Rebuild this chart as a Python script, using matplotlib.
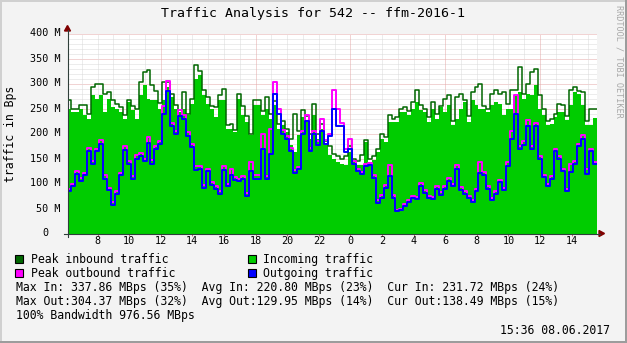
import numpy as np
import matplotlib
matplotlib.use("Agg")
import matplotlib.pyplot as plt
from matplotlib.patches import Rectangle, Polygon
from matplotlib.lines import Line2D
from matplotlib.transforms import blended_transform_factory

W, H, DPI = 627, 343, 100

# 15-minute samples starting 06:06, values in MBytes/s
start_hour = 6.1
step_hours = 0.25

in_peak = [
    267, 250, 250, 257, 257, 240, 293, 300, 300, 280,
    283, 267, 260, 253, 237, 267, 255, 250, 303, 323,
    327, 297, 285, 262, 303, 303, 280, 258, 248, 283,
    240, 270, 337.86, 325, 287, 273, 256, 253, 277, 290,
    217, 220, 208, 280, 255, 235, 200, 267, 267, 245,
    273, 240, 265, 220, 225, 210, 190, 240, 205, 247,
    235, 200, 260, 200, 220, 185, 175, 160, 155, 150,
    155, 175, 150, 145, 157, 187, 150, 155, 170, 200,
    193, 237, 230, 233, 250, 253, 245, 263, 287, 257,
    250, 233, 263, 240, 255, 270, 277, 225, 273, 280,
    267, 235, 283, 293, 300, 255, 250, 280, 287, 280,
    283, 260, 287, 287, 333, 280, 300, 323, 330, 277,
    250, 225, 230, 240, 260, 257, 235, 287, 293, 285,
    283, 225, 250, 250,
]

in_avg = [
    250, 243, 243, 250, 237, 230, 277, 270, 277, 243,
    270, 253, 250, 243, 230, 263, 247, 230, 277, 297,
    270, 267, 267, 250, 267, 293, 273, 250, 243, 250,
    237, 260, 310, 317, 277, 260, 250, 233, 267, 267,
    210, 210, 203, 270, 237, 223, 197, 257, 257, 237,
    250, 230, 257, 210, 217, 203, 177, 163, 197, 233,
    223, 190, 237, 190, 210, 177, 157, 150, 143, 140,
    137, 163, 143, 137, 137, 183, 143, 147, 163, 190,
    183, 223, 223, 223, 243, 243, 237, 250, 263, 247,
    243, 223, 250, 230, 253, 243, 257, 217, 230, 250,
    263, 223, 267, 257, 250, 250, 243, 257, 263, 260,
    237, 250, 250, 277, 283, 270, 280, 277, 297, 250,
    237, 217, 220, 233, 243, 243, 227, 257, 283, 280,
    257, 217, 217, 231.72,
]

out_peak = [
    90, 100, 126, 112, 122, 172, 146, 170, 188, 118,
    92, 64, 86, 122, 176, 146, 116, 158, 162, 150,
    194, 148, 176, 186, 255, 304.37, 222, 205, 248, 238,
    203, 180, 135, 136, 98, 130, 103, 96, 86, 135,
    100, 130, 113, 110, 116, 82, 143, 118, 118, 200,
    116, 210, 303, 250, 208, 196, 172, 128, 134, 205,
    237, 172, 206, 185, 230, 188, 200, 287, 250, 222,
    170, 190, 146, 130, 124, 140, 142, 117, 68, 78,
    98, 137, 78, 48, 50, 60, 67, 76, 74, 101,
    88, 76, 74, 96, 83, 95, 112, 100, 137, 93,
    85, 76, 67, 90, 143, 124, 95, 72, 85, 108,
    92, 143, 205, 277, 176, 185, 227, 176, 222, 156,
    118, 100, 116, 170, 155, 130, 90, 140, 145, 180,
    197, 130, 170, 143,
]

out_avg = [
    85, 95, 120, 105, 117, 165, 140, 165, 180, 110,
    88, 58, 80, 117, 168, 140, 110, 150, 155, 145,
    182, 140, 170, 180, 240, 285, 215, 200, 235, 230,
    195, 173, 128, 130, 92, 125, 97, 90, 80, 128,
    95, 117, 108, 105, 110, 75, 125, 110, 110, 170,
    110, 160, 280, 240, 200, 190, 165, 122, 130, 200,
    225, 165, 200, 178, 205, 180, 195, 250, 215, 215,
    163, 170, 140, 125, 120, 135, 138, 112, 62, 72,
    92, 115, 72, 45, 47, 55, 63, 72, 70, 95,
    82, 72, 70, 90, 78, 90, 105, 95, 130, 88,
    80, 72, 63, 85, 122, 118, 90, 68, 80, 103,
    88, 135, 190, 240, 170, 178, 215, 170, 215, 150,
    113, 95, 110, 165, 150, 125, 85, 123, 140, 175,
    190, 120, 165, 138.49,
]

y_ticks = list(range(0, 401, 50))
y_tick_labels = ["0"] + [f"{v} M" for v in y_ticks[1:]]
x_tick_hours = list(range(8, 39, 2))
x_tick_labels = [str(h % 24) for h in x_tick_hours]

title = "Traffic Analysis for 542 -- ffm-2016-1"
legend_items = [
    ("Peak inbound traffic", "#006600", 15, 259.3, 30.7),
    ("Incoming traffic", "#00CC00", 248, 259.3, 263.3),
    ("Peak outbound traffic", "#FF00FF", 15, 273.3, 30.7),
    ("Outgoing traffic", "#0000FF", 248, 273.3, 263.3),
]
stats_lines = [
    "Max In: 337.86 MBps (35%)  Avg In: 220.80 MBps (23%)  Cur In: 231.72 MBps (24%)",
    "Max Out:304.37 MBps (32%)  Avg Out:129.95 MBps (14%)  Cur Out:138.49 MBps (15%)",
    "100% Bandwidth 976.56 MBps",
]
timestamp = "15:36 08.06.2017"
credit = "RRDTOOL / TOBI OETIKER"

MONO = "DejaVu Sans Mono"


def fx(px):
    return px / W


def fy(py):
    return 1 - py / H


fig = plt.figure(figsize=(W / DPI, H / DPI), dpi=DPI, facecolor="#F3F3F3")

# 3D-style frame around the canvas
for (x0, y0, w, h, c) in [
    (0, 0, W, 2, "#D0D0D0"), (0, 0, 2, H, "#D0D0D0"),
    (W - 2, 0, 2, H, "#9C9C9C"), (0, H - 2, W, 2, "#9C9C9C"),
]:
    fig.add_artist(Rectangle((fx(x0), fy(y0 + h)), w / W, h / H,
                             transform=fig.transFigure, facecolor=c,
                             edgecolor="none"))

x_left, x_right, y_bottom, y_top = 67.5, 597, 233.5, 33.5
ax = fig.add_axes([fx(x_left), fy(y_bottom), (x_right - x_left) / W,
                   (y_bottom - y_top) / H])
ax.set_facecolor("white")
for s in ax.spines.values():
    s.set_visible(False)

t_end = start_hour + step_hours * len(in_avg)
ax.set_xlim(start_hour, t_end)
ax.set_ylim(0, 400)

# grid: 10M / 1h minor, 50M / 6h major
dots = (0, (1, 1))
for v in range(10, 401, 10):
    major = v % 50 == 0
    ax.axhline(v, color="#E5A8A8" if major else "#DADADA", lw=0.72,
               ls=dots, zorder=1)
for h in range(7, 40):
    major = h % 6 == 0
    ax.axvline(h, color="#E5A8A8" if major else "#DADADA", lw=0.72,
               ls=dots, zorder=1)

edges = start_hour + step_hours * np.arange(len(in_avg) + 1)


def ext(a):
    return np.append(a, a[-1])


ax.fill_between(edges, 0, ext(in_avg), step="post", color="#00CC00",
                lw=0, zorder=2)
ax.step(edges, ext(in_peak), where="post", color="#006600", lw=1.1, zorder=3)
ax.step(edges, ext(out_peak), where="post", color="#FF00FF", lw=1.4, zorder=4)
ax.step(edges, ext(out_avg), where="post", color="#0000FF", lw=1.4, zorder=5)

ax.set_xticks(x_tick_hours, x_tick_labels)
ax.set_yticks([])
ax.tick_params(axis="x", length=1.5, width=0.72, color="#C07070", pad=0.5,
               labelsize=7.3)
for lab in ax.get_xticklabels():
    lab.set_family(MONO)

ytrans = blended_transform_factory(fig.transFigure, ax.transData)
for v, lab in zip(y_ticks, y_tick_labels):
    xr = 61 if v else 48.5
    ax.text(fx(xr), v, lab, transform=ytrans, ha="right", va="center",
            fontsize=7.3, family=MONO)

# axis lines and arrows
axis_c = "#2F3F3A"
fig.add_artist(Line2D([fx(64), fx(600)], [fy(233.5), fy(233.5)],
                      transform=fig.transFigure, color=axis_c, lw=0.8))
fig.add_artist(Line2D([fx(67.5), fx(67.5)], [fy(236.5), fy(30)],
                      transform=fig.transFigure, color=axis_c, lw=0.8))
fig.add_artist(Polygon([(fx(64.5), fy(31)), (fx(70.5), fy(31)),
                        (fx(67.5), fy(25.5))], closed=True,
                       transform=fig.transFigure, color="#800000"))
fig.add_artist(Polygon([(fx(599), fy(230.5)), (fx(599), fy(236.5)),
                        (fx(604.5), fy(233.5))], closed=True,
                       transform=fig.transFigure, color="#800000"))

fig.text(fx(313), fy(13.5), title, ha="center", va="center", fontsize=9.5,
         family=MONO)
fig.text(fx(11), fy(133.5), "traffic in Bps", rotation=90, ha="center",
         va="center", fontsize=8.3, family=MONO)
fig.text(fx(618.5), fy(5), credit, rotation=270, ha="center", va="top",
         fontsize=6.1, family=MONO, color="#A8A8A8")

for label, color, sx, sy, tx in legend_items:
    fig.add_artist(Rectangle((fx(sx), fy(sy + 4)), 8 / W, 8 / H,
                             transform=fig.transFigure, facecolor=color,
                             edgecolor="black", lw=0.8))
    fig.text(fx(tx), fy(sy), label, ha="left", va="center", fontsize=8.3,
             family=MONO)

for i, line in enumerate(stats_lines):
    fig.text(fx(16.2), fy(287.3 + 14 * i), line, ha="left", va="center",
             fontsize=8.3, family=MONO)

fig.text(fx(610), fy(330), timestamp, ha="right", va="center", fontsize=8.3,
         family=MONO)

fig.savefig("out.png", dpi=DPI, facecolor=fig.get_facecolor())
